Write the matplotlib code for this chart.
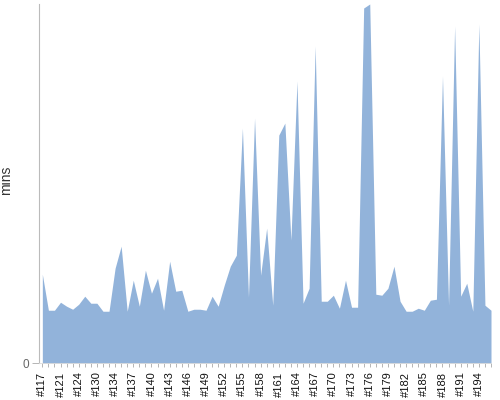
import matplotlib
matplotlib.use("Agg")
import matplotlib.pyplot as plt

plt.rcParams["font.family"] = ["Liberation Sans", "DejaVu Sans"]

# build numbers (labels every 3rd one are what the axis shows)
builds = [
    "#117", "#118", "#120", "#121", "#122", "#123", "#124", "#126", "#128", "#130",
    "#131", "#132", "#134", "#135", "#136", "#137", "#138", "#139", "#140", "#141",
    "#142", "#143", "#144", "#145", "#146", "#147", "#148", "#149", "#150", "#151",
    "#152", "#153", "#154", "#155", "#156", "#157", "#158", "#159", "#160", "#161",
    "#162", "#163", "#164", "#165", "#166", "#167", "#168", "#169", "#170", "#171",
    "#172", "#173", "#174", "#175", "#176", "#177", "#178", "#179", "#180", "#181",
    "#182", "#183", "#184", "#185", "#186", "#187", "#188", "#189", "#190", "#191",
    "#192", "#193", "#194", "#195", "#196",
]

# duration in minutes
mins = [
    8.9, 5.3, 5.3, 6.1, 5.7, 5.4, 5.9, 6.7, 6.0, 6.0,
    5.2, 5.2, 9.5, 11.7, 5.2, 8.3, 5.7, 9.3, 7.0, 8.5,
    5.3, 10.2, 7.2, 7.3, 5.2, 5.4, 5.4, 5.3, 6.7, 5.7,
    7.8, 9.7, 10.8, 23.5, 6.6, 24.5, 8.8, 13.5, 5.8, 22.8,
    24.0, 12.3, 28.2, 6.0, 7.5, 31.7, 6.2, 6.2, 6.8, 5.5,
    8.3, 5.6, 5.6, 35.5, 35.9, 6.9, 6.8, 7.5, 9.7, 6.2,
    5.2, 5.2, 5.5, 5.3, 6.3, 6.4, 28.7, 5.8, 33.7, 6.7,
    8.0, 5.2, 33.9, 5.8, 5.3,
]

x = list(range(len(mins)))

fig = plt.figure(figsize=(5, 4), dpi=100)
ax = fig.add_axes([0.0774, 0.0918, 0.9046, 0.8982])

ax.fill_between(x, mins, 0, color="#92b3da", linewidth=0)

ax.set_xlim(-0.6, len(mins) - 1)
ax.set_ylim(0, max(mins))

ax.set_xticks(x)
labels = ax.set_xticklabels([b if i % 3 == 0 else "" for i, b in enumerate(builds)],
                            fontsize=8, color="#111111")
for t in labels:
    t.set_rotation(90)
    t.set_va("top")
    t.set_ha("center")
ax.tick_params(axis="x", length=3, width=0.6, color="#aaaaaa", pad=3)

ax.set_yticks([0])
ax.set_yticklabels(["0"], fontsize=8.5, color="#666666")
ax.tick_params(axis="y", length=5, width=0.6, color="#aaaaaa", pad=2)

ax.set_ylabel("mins", fontsize=10, color="#333333")
ax.yaxis.set_label_coords(-0.057, 0.51)

for side in ["top", "right"]:
    ax.spines[side].set_visible(False)
ax.spines["left"].set_color("#bbbbbb")
ax.spines["left"].set_linewidth(0.8)
ax.spines["bottom"].set_color("#dddddd")
ax.spines["bottom"].set_linewidth(0.6)

fig.savefig("out.png", dpi=100)
